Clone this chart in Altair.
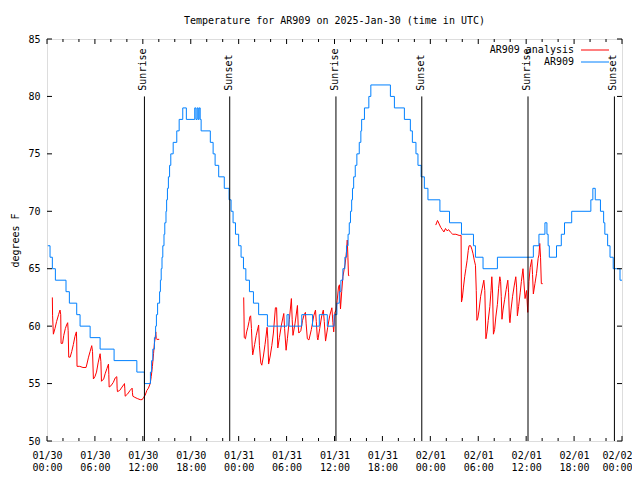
import altair as alt
import pandas as pd

FONT = "DejaVu Sans Mono"

# x values are hours since 2025-01-30 00:00 UTC
day_labels = ["01/30", "01/31", "02/01", "02/02"]
hour_labels = ["00:00", "06:00", "12:00", "18:00"]

# AR909 observations (value changes, step-after)
blue_h = [0.1, 0.38, 0.67, 1.05, 2.38, 2.8, 3.72, 4.14, 5.4, 6.65, 8.4, 11.25, 12.2,
          12.95, 13.1, 13.25, 13.45, 13.6, 13.7, 13.85, 14.1, 14.2, 14.3, 14.4, 14.5,
          14.65, 14.75, 14.9, 14.98, 15.08, 15.2, 15.35, 15.5, 15.8, 16.25, 16.55, 17.0,
          17.45, 18.5, 18.65, 18.8, 18.93, 19.05, 19.18, 19.3, 20.45, 20.8, 21.05, 21.5,
          22.2, 22.8, 23.05, 23.3, 23.6, 24.0, 24.3, 24.6, 24.9, 25.35, 25.85, 26.5, 27.6,
          30.05, 30.3, 31.9, 33.25, 34.1, 35.1, 35.95, 36.3, 36.6, 36.8, 37.05, 37.3, 37.5,
          37.7, 37.85, 38.0, 38.15, 38.25, 38.4, 38.6, 38.8, 39.1, 39.3, 39.4, 39.75, 40.3,
          40.55, 43.0, 43.5, 44.75, 45.5, 45.75, 46.2, 46.45, 46.85, 47.25, 47.7, 49.2,
          50.4, 51.9, 53.4, 53.65, 54.6, 56.4, 60.9, 61.6, 62.35, 62.6, 62.75, 62.9, 63.8,
          64.4, 64.8, 65.7, 68.1, 68.35, 68.65, 69.3, 69.7, 69.85, 70.2, 70.5, 70.9, 71.75,
          72.0]
blue_v = [67, 66, 65, 64, 63, 62, 61, 60, 59, 58, 57, 56, 55,
          56, 57, 58, 59, 60, 61, 62, 63, 64, 65, 66, 67,
          68, 69, 70, 71, 72, 73, 74, 75, 76, 77, 78, 79,
          78, 79, 78, 79, 78, 79, 78, 77, 76, 75, 74, 73,
          72, 71, 70, 69, 68, 67, 66, 65, 64, 63, 62, 61, 60,
          61, 60, 61, 60, 61, 60, 61, 62, 63, 64, 65, 66, 67,
          68, 69, 70, 71, 72, 73, 74, 75, 76, 77, 78, 79, 80,
          81, 80, 79, 78, 77, 76, 75, 74, 73, 72, 71, 70,
          69, 68, 67, 66, 65, 66, 67, 68, 69, 68, 67, 66, 67,
          68, 69, 70, 71, 72, 71, 70, 69, 68, 67, 66, 65, 64,
          64]

# AR909 analysis (three separate runs)
red1_h = [0.67, 0.7, 0.8, 1.0, 1.2, 1.45, 1.63, 1.72, 1.76, 1.95, 2.1, 2.3, 2.45, 2.59, 2.65,
          2.72, 2.9, 3.1, 3.3, 3.5, 3.68, 3.72, 3.76, 4.1, 4.5, 4.89, 5.0, 5.2, 5.4, 5.6, 5.7,
          5.81, 6.0, 6.2, 6.4, 6.65, 6.75, 6.82, 7.1, 7.3, 7.5, 7.7, 7.74, 7.78, 8.0, 8.3, 8.55,
          8.74, 8.78, 8.82, 9.1, 9.4, 9.6, 9.7, 9.74, 9.79, 10.1, 10.4, 10.66, 10.7, 10.75,
          11.0, 11.3, 11.67, 11.92, 12.1, 12.3, 12.5, 12.7, 12.92, 13.05, 13.2, 13.34, 13.45,
          13.55, 13.62, 13.68, 13.75, 14.05]
red1_v = [62.5, 60.9, 59.3, 59.8, 60.4, 61.0, 61.4, 61.0, 58.5, 58.5, 59.2, 59.8, 60.1, 60.3, 59.6,
          57.3, 57.3, 57.8, 58.4, 59.1, 59.5, 58.7, 56.5, 56.5, 56.4, 56.4, 56.7, 57.3, 57.8, 58.3, 57.8,
          55.4, 55.6, 56.0, 56.8, 57.6, 56.9, 55.2, 55.4, 55.9, 56.3, 56.7, 55.8, 54.7, 54.8, 55.1, 55.5,
          55.6, 54.6, 54.3, 54.4, 54.7, 54.9, 55.0, 54.6, 53.9, 54.1, 54.4, 54.6, 54.2, 53.9,
          53.8, 53.7, 53.6, 53.6, 53.8, 54.0, 54.4, 54.6, 55.0, 55.6, 56.5, 57.6, 58.5,
          59.0, 59.5, 58.9, 58.85, 58.85]
red2_h = [24.63, 24.67, 24.7, 24.85, 25.0, 25.15, 25.3, 25.4, 25.5, 25.6, 25.72, 25.76, 26.0,
          26.2, 26.5, 26.6, 26.77, 26.9, 27.1, 27.3, 27.56, 27.65, 27.75, 27.95, 28.15, 28.35,
          28.6, 28.75, 28.9, 29.1, 29.35, 29.65, 29.75, 29.94, 30.1, 30.35, 30.6, 30.7, 30.8,
          31.05, 31.36, 31.45, 31.53, 31.78, 32.0, 32.2, 32.36, 32.45, 32.6, 32.8, 33.1, 33.4,
          33.62, 33.72, 33.85, 33.92, 34.15, 34.4, 34.6, 34.72, 34.88, 35.15, 35.4, 35.67, 35.8,
          35.9, 36.05, 36.2, 36.33, 36.5, 36.62, 36.75, 36.9, 37.05, 37.2, 37.35, 37.5, 37.6,
          37.68, 37.75, 37.85]
red2_v = [62.5, 60.8, 59.0, 58.9, 59.5, 59.9, 60.4, 60.8, 60.9, 59.8, 57.9, 57.5, 58.4,
          59.2, 60.1, 58.3, 56.8, 56.6, 57.4, 58.4, 59.9, 58.9, 56.7, 57.4, 58.3, 59.4,
          61.6, 61.6, 58.1, 59.0, 60.1, 61.1, 59.8, 57.9, 58.9, 60.6, 62.4, 60.6, 59.2,
          60.2, 61.8, 60.1, 59.4, 59.6, 60.5, 61.0, 61.2, 60.2, 58.9, 58.8, 59.7, 60.9,
          61.4, 60.4, 59.0, 58.8, 59.8, 60.9, 61.4, 60.4, 58.7, 59.9, 60.9, 61.6, 60.3,
          59.5, 61.2, 61.4, 62.2, 63.4, 63.6, 61.5, 63.0, 64.3, 64.9, 65.5, 66.5, 67.5,
          66.0, 64.4, 64.4]
red3_h = [48.68, 48.9, 49.1, 49.3, 49.5, 49.7, 49.9, 50.1, 50.3, 50.5, 50.8, 51.2, 51.6, 51.85,
          51.9, 52.0, 52.15, 52.3, 52.45, 52.6, 52.75, 52.85, 53.05, 53.2, 53.35, 53.5, 53.65,
          53.75, 53.83, 53.95, 54.1, 54.3, 54.5, 54.7, 54.82, 54.96, 55.1, 55.25, 55.45, 55.6,
          55.7, 55.8, 55.9, 56.05, 56.2, 56.4, 56.55, 56.7, 56.8, 56.88, 56.97, 57.1, 57.3,
          57.5, 57.7, 57.8, 57.9, 57.97, 58.1, 58.3, 58.5, 58.7, 58.8, 58.9, 59.05, 59.25,
          59.4, 59.6, 59.7, 59.86, 60.05, 60.2, 60.35, 60.5, 60.7, 60.8, 60.9, 61.1, 61.3,
          61.5, 61.6, 61.7, 61.8, 61.9, 62.07]
red3_v = [68.8, 69.2, 68.9, 68.6, 68.4, 68.2, 68.5, 68.3, 68.4, 68.2, 68.0, 68.0, 67.9, 67.9,
          62.1, 62.4, 63.4, 64.3, 65.0, 65.7, 66.6, 67.0, 67.0, 66.7, 66.3, 65.75, 65.3,
          63.1, 60.5, 60.7, 61.4, 62.6, 63.3, 64.0, 63.1, 58.9, 59.5, 60.5, 61.7, 63.1,
          64.3, 62.8, 59.3, 59.7, 60.8, 61.9, 63.3, 64.3, 63.9, 62.6, 60.6, 61.4, 62.3,
          63.2, 64.0, 62.9, 60.7, 60.3, 61.4, 62.6, 63.5, 64.3, 63.4, 60.9, 61.7, 62.9,
          63.9, 65.0, 64.0, 62.4, 63.1, 61.2, 63.9, 65.1, 65.8, 64.5, 62.8, 63.7, 64.6,
          65.9, 66.2, 67.2, 66.0, 63.7, 63.7]

sun_h = [12.2, 22.88, 36.18, 46.93, 60.23, 71.05]
sun_name = ["Sunrise", "Sunset", "Sunrise", "Sunset", "Sunrise", "Sunset"]

series_names = ["AR909 analysis", "AR909"]
series_colors = ["#ff0000", "#0080ff"]

x_major = list(range(0, 73, 6))
x_minor = [h for h in range(0, 73, 2) if h % 6]
y_major = list(range(50, 86, 5))

W, H = 575, 402

blue_df = pd.DataFrame({"h": blue_h, "v": blue_v})
red_df = pd.concat([
    pd.DataFrame({"h": red1_h, "v": red1_v, "seg": 1}),
    pd.DataFrame({"h": red2_h, "v": red2_v, "seg": 2}),
    pd.DataFrame({"h": red3_h, "v": red3_v, "seg": 3}),
])
sun_df = pd.DataFrame({"h": sun_h, "name": sun_name})

xscale = alt.Scale(domain=[0, 72], nice=False, zero=False)
yscale = alt.Scale(domain=[50, 85], nice=False, zero=False)

label_expr = ("[" + str(day_labels) + "[floor(datum.value/24)], "
              + str(hour_labels) + "[floor((datum.value % 24)/6)]]")
last_tick = "datum.value == %d" % x_major[-1]

xaxis = alt.Axis(values=x_major, labelExpr=label_expr, title=None, ticks=False, domain=False,
                 grid=False, labelPadding=9, labelLineHeight=12, labelFont=FONT, labelFontSize=10,
                 labelColor="black", labelOverlap=False, labelFlush=False,
                 labelAlign=alt.condition(last_tick, alt.value("right"), alt.value("center")),
                 labelOffset=alt.condition(last_tick, alt.value(10), alt.value(0)))
yaxis = alt.Axis(values=y_major, title="degrees F", ticks=False, domain=False, grid=False,
                 labelPadding=7, labelFont=FONT, labelFontSize=10, labelColor="black",
                 titleFont=FONT, titleFontSize=10, titleFontWeight="normal", titleColor="black",
                 titlePadding=7, format="d")


def X(field="h:Q"):
    return alt.X(field, scale=xscale, axis=xaxis)


def Y(field="v:Q"):
    return alt.Y(field, scale=yscale, axis=yaxis)


red = alt.Chart(red_df).mark_line(color=series_colors[0], strokeWidth=1).encode(
    x=X(), y=Y(), detail="seg:N",
)
blue = alt.Chart(blue_df).mark_line(color=series_colors[1], strokeWidth=1,
                                    interpolate="step-after").encode(x=X(), y=Y())
sun_rules = alt.Chart(sun_df).mark_rule(color="black", strokeWidth=1).encode(
    x=X(),
    y=alt.Y(datum=80, scale=yscale, axis=yaxis),
    y2=alt.Y2(datum=50),
)
sun_text = alt.Chart(sun_df).mark_text(angle=270, align="left", baseline="middle", font=FONT,
                                       fontSize=10, color="black", dy=-1).encode(
    x=X(),
    y=alt.Y(datum=80.5, scale=yscale, axis=yaxis),
    text="name:N",
)

# inward ticks (gnuplot style, mirrored)
xt_major = pd.DataFrame({"h": x_major})
xt_minor = pd.DataFrame({"h": x_minor})
yt = pd.DataFrame({"v": y_major})
tick_layers = []
for df, ln in [(xt_major, 5), (xt_minor, 3)]:
    tick_layers.append(alt.Chart(df).mark_rule(color="black").encode(
        x=X(), y=alt.value(H), y2=alt.value(H - ln)))
    tick_layers.append(alt.Chart(df).mark_rule(color="black").encode(
        x=X(), y=alt.value(0), y2=alt.value(ln)))
tick_layers.append(alt.Chart(yt).mark_rule(color="black").encode(
    y=Y(), x=alt.value(0), x2=alt.value(5)))
tick_layers.append(alt.Chart(yt).mark_rule(color="black").encode(
    y=Y(), x=alt.value(W), x2=alt.value(W - 5)))

# key (top right, text left of sample line)
legend_layers = []
for i, (nm, col) in enumerate(zip(series_names, series_colors)):
    d = pd.DataFrame({"name": [nm]})
    legend_layers.append(alt.Chart(d).mark_text(align="right", baseline="middle", font=FONT,
                                                fontSize=10, color="black").encode(
        text="name:N", x=alt.value(527), y=alt.value(11 + 12 * i)))
    legend_layers.append(alt.Chart(d).mark_rule(color=col, strokeWidth=1).encode(
        x=alt.value(534), x2=alt.value(562), y=alt.value(11 + 12 * i)))

chart = alt.layer(red, blue, sun_rules, sun_text, *tick_layers, *legend_layers).properties(
    width=W, height=H,
    title=alt.TitleParams("Temperature for AR909 on 2025-Jan-30 (time in UTC)", font=FONT,
                          fontSize=10, fontWeight="normal", anchor="middle", color="black",
                          offset=8),
    autosize=alt.AutoSizeParams(type="none"),
    padding={"left": 39, "top": 31, "right": 10, "bottom": 30},
).configure_view(stroke="black", strokeWidth=1).configure(background="white")

chart.save("out.html", embed_options={"renderer": "svg", "actions": False})
